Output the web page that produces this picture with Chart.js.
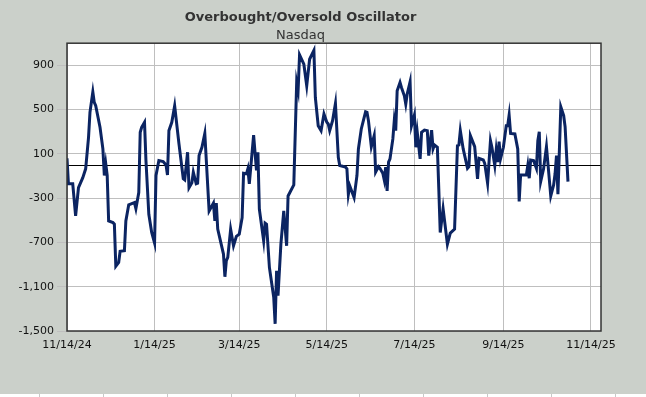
<!DOCTYPE html>
<html>
<head>
<meta charset="utf-8">
<script src="https://cdn.jsdelivr.net/npm/chart.js@4"></script>
<style>
  body { margin: 0; background: #cbd0ca; }
  #wrap { width: 646px; height: 394px; }
  #cells {
    width: 646px; height: 3px;
    background: repeating-linear-gradient(to right, #fff 0 63px, #c8c8c8 63px 64px);
    background-position: -24px 0;
  }
</style>
</head>
<body>
<div id="wrap"><canvas id="myChart" width="646" height="394"></canvas></div>
<div id="cells"></div>
<script>
let dates = [
    '11/14/24', '11/15/24', '11/18/24', '11/20/24', '11/22/24', '11/25/24', '11/27/24', '11/29/24', '11/30/24',
    '12/2/24', '12/3/24', '12/4/24', '12/7/24', '12/9/24', '12/10/24', '12/11/24', '12/12/24', '12/13/24',
    '12/16/24', '12/17/24', '12/18/24', '12/20/24', '12/21/24', '12/24/24', '12/25/24', '12/27/24', '12/30/24', '12/31/24',
    '1/1/25', '1/3/25', '1/4/25', '1/5/25', '1/7/25', '1/8/25', '1/10/25', '1/12/25', '1/14/25', '1/15/25',
    '1/17/25', '1/20/25', '1/22/25', '1/23/25', '1/24/25', '1/26/25', '1/28/25', '1/31/25',
    '2/3/25', '2/4/25', '2/6/25', '2/7/25', '2/9/25', '2/10/25', '2/12/25', '2/13/25', '2/14/25', '2/16/25',
    '2/18/25', '2/21/25', '2/24/25', '2/25/25', '2/26/25', '2/27/25',
    '3/3/25', '3/4/25', '3/5/25', '3/6/25', '3/8/25', '3/10/25', '3/12/25', '3/14/25', '3/16/25', '3/17/25',
    '3/19/25', '3/20/25', '3/21/25', '3/24/25', '3/26/25', '3/27/25', '3/28/25', '3/31/25',
    '4/1/25', '4/2/25', '4/4/25', '4/7/25', '4/8/25', '4/9/25', '4/10/25', '4/12/25', '4/14/25', '4/16/25',
    '4/17/25', '4/21/25', '4/23/25', '4/24/25', '4/25/25', '4/28/25', '4/30/25',
    '5/2/25', '5/5/25', '5/6/25', '5/8/25', '5/10/25', '5/12/25', '5/14/25', '5/15/25', '5/16/25', '5/18/25',
    '5/20/25', '5/22/25', '5/23/25', '5/27/25', '5/28/25', '5/29/25', '5/30/25',
    '6/2/25', '6/4/25', '6/5/25', '6/7/25', '6/10/25', '6/11/25', '6/12/25', '6/14/25', '6/16/25', '6/17/25',
    '6/19/25', '6/20/25', '6/22/25', '6/23/25', '6/24/25', '6/25/25', '6/26/25', '6/27/25', '6/29/25', '6/30/25',
    '7/1/25', '7/2/25', '7/4/25', '7/5/25', '7/7/25', '7/8/25', '7/9/25', '7/11/25', '7/12/25', '7/14/25',
    '7/15/25', '7/16/25', '7/18/25', '7/19/25', '7/21/25', '7/23/25', '7/24/25', '7/26/25', '7/27/25', '7/28/25',
    '7/30/25', '7/31/25',
    '8/1/25', '8/3/25', '8/6/25', '8/8/25', '8/11/25', '8/13/25', '8/14/25', '8/15/25', '8/17/25', '8/20/25',
    '8/21/25', '8/22/25', '8/25/25', '8/27/25', '8/28/25', '8/31/25',
    '9/1/25', '9/3/25', '9/5/25', '9/6/25', '9/8/25', '9/9/25', '9/10/25', '9/11/25', '9/12/25', '9/14/25',
    '9/16/25', '9/17/25', '9/18/25', '9/19/25', '9/22/25', '9/24/25', '9/25/25', '9/26/25', '9/30/25',
    '10/1/25', '10/2/25', '10/3/25', '10/5/25', '10/7/25', '10/8/25', '10/9/25', '10/10/25', '10/12/25', '10/14/25',
    '10/17/25', '10/19/25', '10/20/25', '10/21/25', '10/22/25', '10/24/25', '10/26/25', '10/27/25', '10/29/25'
];

let oscillator = [
    60, -170, -170, -460, -205, -115, -35, 250, 475,
    660, 565, 535, 340, 145, -95, 10, -95, -505,
    -520, -535, -915, -880, -780, -775, -505, -360, -345, -340,
    -395, -250, 295, 340, 385, 40, -445, -610, -705, -95,
    40, 30, 0, -90, 310, 385, 535, 190,
    -125, -135, 115, -205, -160, -65, -170, -165, 85, 160,
    285, -415, -345, -505, -345, -580,
    -805, -1010, -865, -835, -580, -730, -645, -625, -475, -75,
    -80, -35, -170, 270, -50, 115, -400, -685,
    -525, -535, -925, -1195, -1435, -955, -1180, -715, -415, -730,
    -280, -180, 745, 675, 995, 910, 715,
    955, 1035, 610, 355, 310, 460, 385, 370, 310, 400,
    555, 70, -5, -20, -35, -265, -190,
    -295, -95, 145, 325, 480, 475, 400, 165, 265, -65,
    -15, -30, -75, -135, -20, -235, 25, 55, 235, 400,
    310, 670, 745, 700, 625, 550, 640, 750, 355, 450,
    160, 295, 55, 295, 315, 310, 85, 315, 145, 180,
    160, -215,
    -610, -395, -715, -615, -580, 175, 180, 310, 145, -30,
    -15, 265, 165, -125, 60, 45,
    15, -165, 220, 160, -5, 135, 25, 210, 55, 160,
    355, 355, 450, 285, 280, 145, -330, -90, -90,
    -5, -120, 45, 40, -30, 220, 300, -150, -35, 165,
    -280, -180, -80, 85, -265, 525, 445, 345, -150
];

let xTickLabels = ['11/14/24', '1/14/25', '3/14/25', '5/14/25', '7/14/25', '9/14/25', '11/14/25'];
let xEnd = '11/21/25';
let yTickValues = [-1500, -1100, -700, -300, 100, 500, 900];
let yMin = -1500;
let yMax = 1100;

// days since first date
function dayOf(s) {
    let p = s.split('/');
    return Date.UTC(2000 + Number(p[2]), Number(p[0]) - 1, Number(p[1])) / 864e5;
}
let day0 = dayOf(dates[0]);

let points = dates.map((d, i) => ({ x: dayOf(d) - day0, y: oscillator[i] }));

let plotFrame = {
    id: 'plotFrame',
    beforeDraw(chart) {
        let a = chart.chartArea, ctx = chart.ctx;
        ctx.save();
        ctx.fillStyle = '#ffffff';
        ctx.fillRect(a.left, a.top, a.right - a.left, a.bottom - a.top);
        ctx.restore();
    },
    beforeDatasetsDraw(chart) {
        let a = chart.chartArea, ctx = chart.ctx;
        let y = Math.round(chart.scales.y.getPixelForValue(0)) + 0.5;
        ctx.save();
        ctx.strokeStyle = '#000000';
        ctx.lineWidth = 1;
        ctx.beginPath();
        ctx.moveTo(a.left, y);
        ctx.lineTo(a.right, y);
        ctx.stroke();
        ctx.restore();
    },
    afterDraw(chart) {
        let a = chart.chartArea, ctx = chart.ctx;
        ctx.save();
        ctx.strokeStyle = '#333333';
        ctx.lineWidth = 1.5;
        ctx.strokeRect(a.left, a.top, a.right - a.left, a.bottom - a.top);
        ctx.restore();
    }
};

let myChart = document.getElementById('myChart').getContext('2d');

let oscChart = new Chart(myChart, {
    type: 'line',
    data: {
        datasets: [{
            label: 'Nasdaq',
            data: points,
            borderColor: '#0b2462',
            borderWidth: 3,
            pointRadius: 0,
            tension: 0,
            fill: false
        }]
    },
    options: {
        responsive: false,
        animation: false,
        layout: { padding: { left: 0, right: 45, top: 0, bottom: 0 } },
        font: { family: 'DejaVu Sans' },
        plugins: {
            legend: { display: false },
            tooltip: { enabled: false },
            title: {
                display: true,
                text: 'Overbought/Oversold Oscillator',
                color: '#333333',
                font: { family: 'DejaVu Sans', size: 13, weight: 'bold' },
                padding: { top: 10, bottom: 2 }
            },
            subtitle: {
                display: true,
                text: 'Nasdaq',
                color: '#333333',
                font: { family: 'DejaVu Sans', size: 13 },
                padding: { top: 0, bottom: 0 }
            }
        },
        scales: {
            x: {
                type: 'linear',
                min: 0,
                max: dayOf(xEnd) - day0,
                afterBuildTicks: function(scale) {
                    scale.ticks = xTickLabels.map(l => ({ value: dayOf(l) - day0 }));
                },
                afterFit: function(scale) {
                    scale.height = 63;
                },
                ticks: {
                    autoSkip: false,
                    maxRotation: 0,
                    padding: 8,
                    color: '#111111',
                    font: { family: 'DejaVu Sans', size: 11 },
                    callback: function(value, index) {
                        return xTickLabels[index];
                    }
                },
                grid: { color: '#bfbfbf', lineWidth: 1, drawTicks: false },
                border: { display: false }
            },
            y: {
                min: yMin,
                max: yMax,
                afterBuildTicks: function(scale) {
                    scale.ticks = yTickValues.map(v => ({ value: v }));
                },
                afterFit: function(scale) {
                    scale.width = 67;
                },
                ticks: {
                    padding: 3,
                    color: '#111111',
                    font: { family: 'DejaVu Sans', size: 11 }
                },
                grid: { color: '#bfbfbf', lineWidth: 1, tickLength: 10 },
                border: { display: false }
            }
        }
    },
    plugins: [plotFrame]
});
</script>
</body>
</html>
